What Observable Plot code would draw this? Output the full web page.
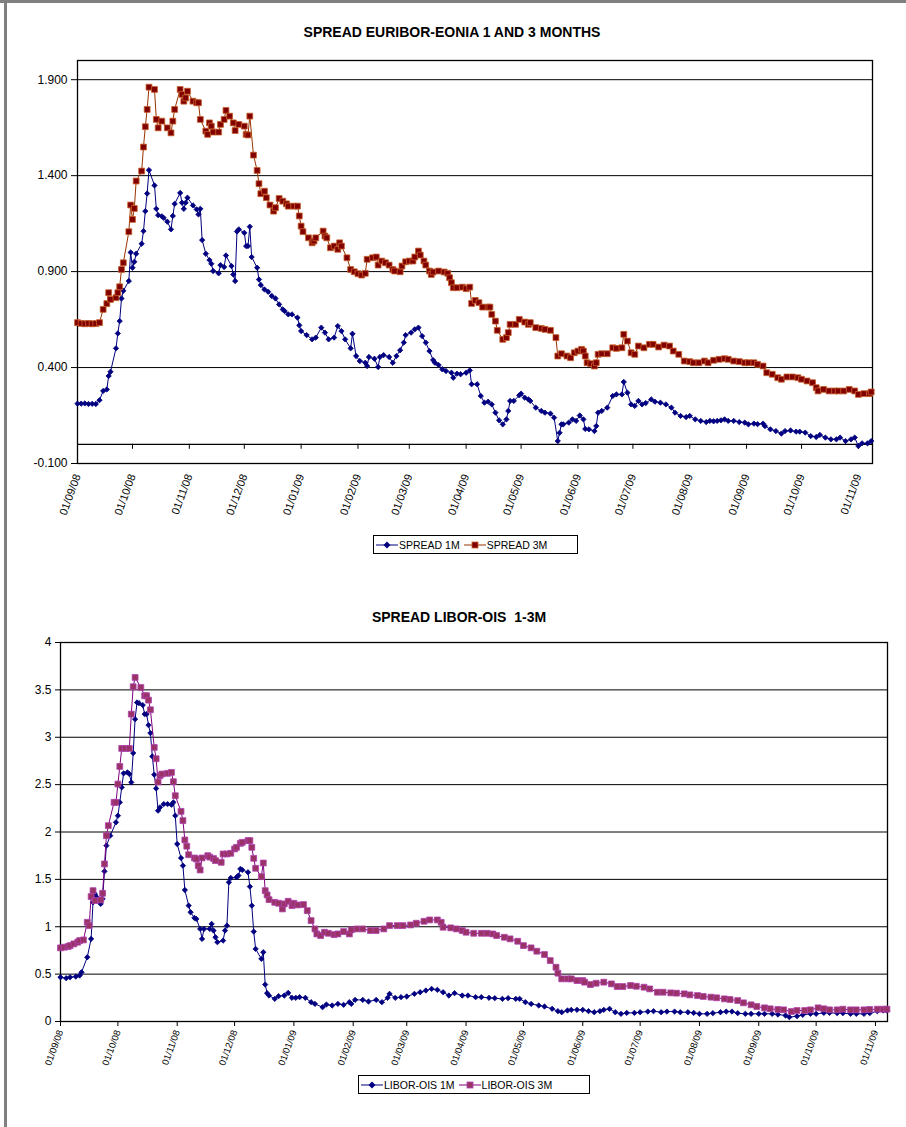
<!DOCTYPE html>
<html><head><meta charset="utf-8">
<script src="https://cdn.jsdelivr.net/npm/d3@7"></script>
<script src="https://cdn.jsdelivr.net/npm/@observablehq/plot@0.6"></script>
<style>
body{margin:0;background:#fff;font-family:"Liberation Sans",Arial,sans-serif;color:#000;}
#page{position:relative;width:906px;height:1127px;overflow:hidden;background:#fff;}
.title{position:absolute;left:0;width:906px;text-align:center;font-weight:bold;font-size:14px;line-height:16px;}
.chart{position:absolute;left:0;}
.legend{position:absolute;border:1px solid #000;font-size:10.5px;display:flex;align-items:center;background:#fff;height:19px;box-sizing:border-box;padding:0 3px 0 2px;white-space:nowrap;}
.legend .item{display:flex;align-items:center;margin-right:4px;}
.legend svg{display:block;margin-right:1px;}
.bar{position:absolute;background:#808080;}
</style>
</head><body><div id="page">
<div class="bar" style="left:0;top:0;width:906px;height:3px"></div>
<div class="bar" style="left:4px;top:0;width:3px;height:1127px"></div>
<div class="title" style="top:24px;left:-1px">SPREAD EURIBOR-EONIA 1 AND 3 MONTHS</div>
<div class="chart" id="top" style="top:45px"></div>
<div class="legend" id="legTop" style="left:373px;top:535px;width:205px"></div>
<div class="title" style="top:609px;left:6px">SPREAD LIBOR-OIS&nbsp;&nbsp;1-3M</div>
<div class="chart" id="bottom" style="top:630px"></div>
<div class="legend" id="legBottom" style="left:358px;top:1075px;width:232px"></div>
</div>
<script>
// x positions are days counted from the first category date 01/09/08
const startLabel = "01/09/08";
const xTickLabels = ["01/09/08","01/10/08","01/11/08","01/12/08","01/01/09","01/02/09","01/03/09","01/04/09","01/05/09","01/06/09","01/07/09","01/08/09","01/09/09","01/10/09","01/11/09"];
const yTicksTop = [-0.1, 0.4, 0.9, 1.4, 1.9];
const yTicksBottom = [0, 0.5, 1, 1.5, 2, 2.5, 3, 3.5, 4];

const euribor1M = [[0,0.212],[2,0.212],[4,0.213],[6,0.21],[8,0.211],[10,0.21],[12,0.23],[14,0.278],[16,0.286],[17,0.356],[18,0.378],[21,0.5],[22,0.578],[23,0.642],[24,0.76],[25,0.8],[28,0.851],[29,1.0],[30,0.92],[31,0.951],[32,0.993],[35,1.045],[36,1.111],[37,1.215],[38,1.307],[39,1.429],[42,1.349],[43,1.227],[44,1.194],[46,1.188],[47,1.18],[49,1.16],[51,1.12],[52,1.19],[53,1.253],[56,1.31],[57,1.259],[58,1.227],[59,1.259],[60,1.285],[63,1.245],[65,1.224],[66,1.198],[67,1.227],[68,1.064],[70,0.993],[72,0.96],[73,0.941],[74,0.903],[77,0.891],[78,0.934],[80,0.924],[81,0.984],[84,0.929],[85,0.885],[86,0.851],[87,1.109],[88,1.12],[91,1.102],[92,1.033],[93,1.033],[94,1.134],[95,0.976],[98,0.92],[99,0.859],[100,0.83],[102,0.807],[104,0.795],[106,0.773],[108,0.76],[110,0.729],[112,0.703],[113,0.694],[115,0.677],[117,0.677],[120,0.66],[121,0.62],[122,0.59],[125,0.569],[128,0.547],[130,0.556],[133,0.608],[135,0.582],[137,0.547],[140,0.556],[142,0.616],[144,0.59],[146,0.547],[149,0.5],[150,0.576],[152,0.46],[154,0.434],[157,0.425],[158,0.408],[159,0.455],[162,0.446],[164,0.403],[165,0.455],[167,0.465],[170,0.455],[172,0.425],[174,0.46],[176,0.49],[178,0.53],[179,0.569],[182,0.582],[184,0.599],[186,0.608],[188,0.564],[190,0.53],[192,0.486],[194,0.439],[195,0.425],[197,0.413],[199,0.391],[201,0.382],[204,0.373],[205,0.347],[207,0.368],[209,0.365],[212,0.373],[214,0.385],[215,0.313],[218,0.313],[220,0.252],[222,0.217],[224,0.222],[226,0.208],[228,0.165],[230,0.125],[232,0.104],[234,0.13],[235,0.174],[236,0.226],[238,0.226],[241,0.255],[242,0.264],[244,0.243],[246,0.234],[247,0.226],[250,0.191],[253,0.174],[255,0.165],[258,0.16],[260,0.139],[262,0.017],[263,0.06],[264,0.104],[265,0.104],[268,0.113],[270,0.13],[272,0.122],[274,0.15],[276,0.13],[277,0.08],[279,0.078],[282,0.069],[283,0.095],[284,0.165],[286,0.174],[289,0.191],[292,0.252],[294,0.26],[297,0.26],[298,0.325],[300,0.269],[302,0.208],[304,0.2],[306,0.226],[308,0.208],[310,0.215],[313,0.234],[315,0.222],[318,0.217],[321,0.208],[324,0.191],[326,0.165],[329,0.148],[332,0.142],[334,0.148],[337,0.13],[340,0.122],[343,0.116],[345,0.122],[347,0.12],[349,0.122],[351,0.125],[353,0.13],[355,0.122],[358,0.122],[361,0.116],[364,0.113],[366,0.104],[369,0.108],[371,0.105],[374,0.108],[375,0.095],[378,0.078],[381,0.069],[384,0.056],[386,0.069],[389,0.072],[392,0.066],[394,0.066],[397,0.061],[400,0.043],[403,0.038],[405,0.049],[408,0.035],[411,0.026],[414,0.026],[416,0.035],[419,0.017],[422,0.026],[424,0.035],[426,-0.009],[428,0.005],[431,0.005],[433,0.017]];

const euribor3M = [[0,0.634],[2,0.63],[4,0.628],[6,0.63],[8,0.628],[10,0.629],[12,0.634],[14,0.703],[16,0.733],[17,0.79],[18,0.755],[21,0.764],[22,0.79],[23,0.821],[24,0.911],[25,0.946],[28,1.108],[29,1.247],[30,1.172],[31,1.229],[32,1.372],[35,1.424],[36,1.549],[37,1.655],[38,1.745],[39,1.861],[42,1.849],[43,1.693],[44,1.649],[46,1.684],[49,1.649],[51,1.623],[52,1.684],[53,1.745],[56,1.849],[57,1.823],[58,1.788],[59,1.805],[60,1.84],[63,1.788],[65,1.78],[66,1.78],[67,1.693],[70,1.632],[71,1.615],[72,1.675],[73,1.658],[74,1.627],[77,1.627],[78,1.667],[80,1.693],[81,1.74],[83,1.71],[85,1.675],[86,1.635],[88,1.667],[91,1.658],[92,1.615],[93,1.612],[94,1.71],[96,1.507],[98,1.427],[99,1.358],[100,1.306],[102,1.319],[103,1.285],[105,1.247],[107,1.215],[108,1.233],[110,1.281],[112,1.267],[114,1.253],[115,1.241],[118,1.241],[120,1.241],[121,1.19],[122,1.137],[123,1.108],[126,1.076],[128,1.05],[129,1.059],[130,1.076],[134,1.111],[135,1.085],[136,1.076],[138,1.024],[140,1.033],[142,1.016],[143,1.05],[144,1.033],[147,0.972],[149,0.911],[151,0.899],[153,0.889],[155,0.882],[157,0.891],[158,0.964],[161,0.972],[163,0.976],[164,0.934],[166,0.955],[168,0.946],[170,0.934],[172,0.911],[173,0.903],[176,0.899],[177,0.929],[179,0.951],[181,0.955],[183,0.955],[184,0.976],[186,1.007],[187,0.986],[189,0.955],[190,0.934],[192,0.903],[193,0.885],[194,0.898],[197,0.903],[200,0.898],[202,0.891],[203,0.868],[204,0.842],[205,0.816],[207,0.816],[210,0.819],[212,0.811],[214,0.819],[215,0.734],[217,0.75],[219,0.738],[221,0.715],[224,0.715],[225,0.715],[226,0.677],[228,0.642],[229,0.594],[232,0.547],[234,0.556],[235,0.582],[236,0.625],[239,0.625],[241,0.651],[244,0.637],[246,0.625],[247,0.634],[250,0.608],[253,0.604],[255,0.599],[258,0.594],[261,0.556],[262,0.46],[264,0.472],[267,0.46],[269,0.451],[271,0.477],[273,0.486],[275,0.495],[276,0.486],[277,0.46],[278,0.425],[280,0.42],[282,0.408],[283,0.425],[284,0.469],[286,0.472],[289,0.472],[292,0.503],[294,0.5],[297,0.503],[298,0.573],[300,0.538],[302,0.477],[304,0.469],[306,0.512],[309,0.503],[312,0.521],[314,0.521],[317,0.507],[320,0.517],[323,0.512],[325,0.486],[328,0.469],[331,0.434],[334,0.431],[336,0.425],[339,0.425],[342,0.434],[344,0.425],[347,0.438],[350,0.443],[353,0.446],[355,0.443],[358,0.434],[361,0.431],[364,0.425],[366,0.425],[369,0.425],[371,0.417],[374,0.408],[376,0.373],[379,0.365],[382,0.347],[384,0.339],[387,0.351],[390,0.351],[393,0.347],[395,0.339],[398,0.33],[401,0.321],[403,0.295],[404,0.278],[407,0.286],[410,0.278],[413,0.278],[415,0.278],[418,0.278],[421,0.286],[424,0.278],[426,0.26],[429,0.264],[432,0.264],[433,0.273]];

const liborOIS1M = [[0,0.467],[3,0.457],[5,0.467],[8,0.474],[10,0.485],[11,0.52],[14,0.678],[16,0.872],[17,1.258],[18,1.346],[19,1.311],[21,1.241],[22,1.294],[23,1.585],[24,1.856],[26,1.961],[29,2.102],[30,2.172],[31,2.313],[32,2.471],[33,2.619],[35,2.629],[36,2.612],[37,2.524],[38,2.833],[39,3.191],[40,3.367],[41,3.36],[43,3.339],[44,3.244],[45,3.244],[46,3.128],[47,3.044],[48,2.798],[49,2.605],[50,2.46],[51,2.225],[52,2.26],[54,2.295],[56,2.295],[58,2.288],[59,2.313],[60,2.172],[61,1.873],[63,1.726],[64,1.645],[65,1.388],[67,1.223],[68,1.153],[70,1.093],[71,1.083],[73,0.977],[74,0.872],[75,0.977],[78,0.977],[79,1.03],[80,0.96],[81,0.889],[82,0.837],[85,0.854],[86,0.96],[87,1.012],[88,1.469],[89,1.515],[92,1.522],[93,1.54],[94,1.61],[95,1.6],[98,1.575],[99,1.424],[100,1.223],[101,0.949],[102,0.766],[105,0.661],[106,0.731],[107,0.39],[108,0.299],[109,0.274],[112,0.239],[114,0.267],[117,0.274],[119,0.302],[121,0.25],[123,0.25],[125,0.257],[128,0.25],[131,0.204],[133,0.186],[137,0.151],[139,0.179],[142,0.169],[145,0.186],[148,0.176],[151,0.204],[152,0.186],[154,0.228],[158,0.228],[161,0.211],[165,0.228],[168,0.204],[171,0.25],[172,0.292],[175,0.25],[178,0.257],[181,0.264],[185,0.292],[188,0.309],[191,0.327],[194,0.344],[197,0.334],[200,0.309],[203,0.274],[206,0.299],[210,0.274],[213,0.274],[217,0.257],[220,0.257],[224,0.25],[227,0.246],[231,0.239],[234,0.246],[238,0.239],[240,0.239],[243,0.204],[246,0.186],[250,0.169],[253,0.158],[257,0.134],[260,0.109],[262,0.098],[265,0.116],[267,0.123],[270,0.123],[273,0.123],[276,0.109],[279,0.098],[282,0.109],[284,0.123],[287,0.134],[290,0.098],[293,0.081],[296,0.091],[300,0.091],[303,0.098],[307,0.105],[310,0.109],[314,0.098],[317,0.105],[321,0.105],[324,0.098],[328,0.098],[331,0.091],[334,0.081],[338,0.081],[341,0.088],[345,0.098],[348,0.105],[351,0.105],[354,0.088],[358,0.081],[361,0.081],[365,0.081],[368,0.081],[372,0.081],[375,0.074],[379,0.063],[381,0.046],[385,0.056],[388,0.07],[392,0.081],[395,0.081],[399,0.091],[402,0.091],[406,0.088],[409,0.088],[413,0.081],[416,0.081],[420,0.081],[423,0.088],[427,0.109],[430,0.116],[432,0.116]];

const liborOIS3M = [[0,0.777],[2,0.784],[4,0.791],[5,0.801],[7,0.819],[9,0.837],[10,0.854],[12,0.861],[14,1.047],[15,1.012],[16,1.318],[17,1.381],[18,1.276],[21,1.283],[22,1.353],[23,1.663],[24,1.961],[25,2.067],[28,2.313],[29,2.313],[30,2.506],[31,2.692],[32,2.882],[34,2.882],[36,2.882],[37,3.244],[38,3.533],[39,3.631],[42,3.525],[44,3.438],[45,3.438],[46,3.392],[47,3.29],[49,2.893],[50,2.773],[51,2.527],[52,2.594],[53,2.612],[56,2.619],[58,2.629],[59,2.531],[60,2.383],[63,2.218],[64,2.12],[65,1.916],[66,1.85],[67,1.76],[70,1.726],[71,1.715],[72,1.645],[73,1.599],[74,1.726],[77,1.75],[78,1.735],[80,1.72],[81,1.698],[84,1.68],[85,1.768],[87,1.768],[89,1.775],[91,1.821],[92,1.838],[94,1.88],[95,1.891],[98,1.909],[99,1.909],[100,1.838],[101,1.722],[102,1.617],[105,1.529],[106,1.673],[107,1.381],[108,1.336],[109,1.286],[112,1.258],[114,1.248],[116,1.188],[117,1.241],[119,1.269],[121,1.223],[122,1.248],[124,1.23],[127,1.234],[129,1.17],[131,1.065],[133,0.977],[134,0.924],[136,0.907],[138,0.942],[140,0.931],[143,0.917],[145,0.924],[148,0.949],[151,0.924],[152,0.967],[155,0.977],[158,0.977],[162,0.96],[165,0.96],[169,0.977],[172,1.012],[176,1.012],[179,1.012],[183,1.019],[186,1.037],[190,1.058],[193,1.072],[197,1.072],[199,1.047],[200,0.995],[204,0.988],[207,0.977],[210,0.96],[212,0.942],[216,0.931],[220,0.931],[223,0.931],[226,0.924],[228,0.907],[232,0.889],[235,0.872],[239,0.847],[242,0.801],[246,0.777],[249,0.742],[253,0.707],[256,0.643],[259,0.573],[260,0.51],[262,0.45],[265,0.45],[267,0.45],[270,0.432],[273,0.432],[274,0.415],[277,0.39],[280,0.404],[284,0.415],[288,0.397],[291,0.369],[294,0.369],[298,0.38],[301,0.372],[305,0.362],[308,0.344],[312,0.309],[315,0.309],[319,0.302],[322,0.299],[326,0.292],[329,0.281],[333,0.274],[336,0.264],[340,0.257],[343,0.25],[347,0.239],[350,0.232],[354,0.221],[357,0.197],[361,0.176],[364,0.158],[368,0.144],[371,0.134],[375,0.127],[378,0.123],[382,0.105],[385,0.116],[389,0.116],[392,0.123],[396,0.144],[399,0.134],[402,0.123],[406,0.123],[409,0.13],[413,0.123],[416,0.123],[420,0.123],[423,0.127],[427,0.13],[430,0.13],[432,0.13]];

const seriesNames = {eur1: "SPREAD 1M", eur3: "SPREAD 3M", lib1: "LIBOR-OIS 1M", lib3: "LIBOR-OIS 3M"};
const colors = {
  eur1: {line: "#000080", fill: "#000080", stroke: "#000080"},
  eur3: {line: "#993300", fill: "#800000", stroke: "#C8602A"},
  lib1: {line: "#000080", fill: "#000080", stroke: "#000080"},
  lib3: {line: "#800080", fill: "#993366", stroke: "#B040B0"}
};

const parseLabel = d3.utcParse("%d/%m/%y");
const fmtLabel = d3.utcFormat("%d/%m/%y");
const startDate = parseLabel(startLabel);
const atDay = d => new Date(startDate.getTime() + d * 86400000);
const rows = (pairs) => pairs.map(([d, v]) => ({date: atDay(d), value: v}));
const xTicks = xTickLabels.map(parseLabel);
const font = '"Liberation Sans", Arial, sans-serif';

function seriesMarks(data, c, symbol, r) {
  const R = rows(data);
  return [
    Plot.line(R, {x: "date", y: "value", stroke: c.line, strokeWidth: 1}),
    Plot.dot(R, {x: "date", y: "value", symbol, r, fill: c.fill, stroke: c.stroke, strokeWidth: 0.8})
  ];
}

const topChart = Plot.plot({
  width: 906, height: 490,
  marginTop: 15, marginBottom: 72, marginLeft: 77, marginRight: 34,
  style: {background: "none", fontFamily: font, fontSize: "12px", color: "#000", overflow: "visible"},
  x: {type: "utc", domain: [atDay(0), atDay(433.7)]},
  y: {domain: [-0.1, 2.0]},
  marks: [
    Plot.ruleY(yTicksTop.filter(v => v > 0), {stroke: "#000", strokeWidth: 1}),
    Plot.ruleY([0], {stroke: "#000", strokeWidth: 1.3}),
    Plot.frame({stroke: "#000", strokeWidth: 1.3}),
    Plot.ruleX(xTicks, {x: d => d, y1: 0, y2: -0.026, stroke: "#000"}),
    Plot.axisY({ticks: yTicksTop, tickFormat: d => d.toFixed(3), tickSize: 6, tickPadding: 4, label: null, fontSize: 12}),
    Plot.axisX({ticks: xTicks, tickFormat: fmtLabel, tickSize: 0, tickRotate: -70, tickPadding: 11, label: null, fontSize: 11}),
    ...seriesMarks(euribor1M, colors.eur1, "diamond2", 2.4),
    ...seriesMarks(euribor3M, colors.eur3, "square", 3.3)
  ]
});
document.getElementById("top").appendChild(topChart);

const bottomChart = Plot.plot({
  width: 906, height: 440,
  marginTop: 12, marginBottom: 49, marginLeft: 60, marginRight: 19,
  style: {background: "none", fontFamily: font, fontSize: "12px", color: "#000", overflow: "visible"},
  x: {type: "utc", domain: [atDay(0), atDay(432.3)]},
  y: {domain: [0, 4]},
  marks: [
    Plot.ruleY(yTicksBottom.filter(v => v > 0 && v < 4), {stroke: "#000", strokeWidth: 1}),
    Plot.frame({stroke: "#000", strokeWidth: 1.3}),
    Plot.axisY({ticks: yTicksBottom, tickFormat: d => String(d), tickSize: 5, tickPadding: 4, label: null, fontSize: 12}),
    Plot.axisX({ticks: xTicks, tickFormat: fmtLabel, tickSize: 5, tickRotate: -70, tickPadding: 4, label: null, fontSize: 9.5}),
    ...seriesMarks(liborOIS1M, colors.lib1, "diamond2", 2.4),
    ...seriesMarks(liborOIS3M, colors.lib3, "square", 3.3)
  ]
});
document.getElementById("bottom").appendChild(bottomChart);

function legend(el, items) {
  const div = d3.select(el);
  for (const it of items) {
    const g = div.append("div").attr("class", "item");
    const svg = g.append("svg").attr("width", 22).attr("height", 10);
    svg.append("line").attr("x1", 0).attr("x2", 22).attr("y1", 5).attr("y2", 5).attr("stroke", it.c.line);
    if (it.symbol === "square") {
      svg.append("rect").attr("x", 8).attr("y", 2).attr("width", 6).attr("height", 6).attr("fill", it.c.fill).attr("stroke", it.c.stroke).attr("stroke-width", 0.8);
    } else {
      svg.append("path").attr("d", "M11,1.5L14.5,5L11,8.5L7.5,5Z").attr("fill", it.c.fill);
    }
    g.append("span").text(it.name);
  }
}
legend("#legTop", [{name: seriesNames.eur1, c: colors.eur1, symbol: "diamond"}, {name: seriesNames.eur3, c: colors.eur3, symbol: "square"}]);
legend("#legBottom", [{name: seriesNames.lib1, c: colors.lib1, symbol: "diamond"}, {name: seriesNames.lib3, c: colors.lib3, symbol: "square"}]);
</script>
</body></html>
